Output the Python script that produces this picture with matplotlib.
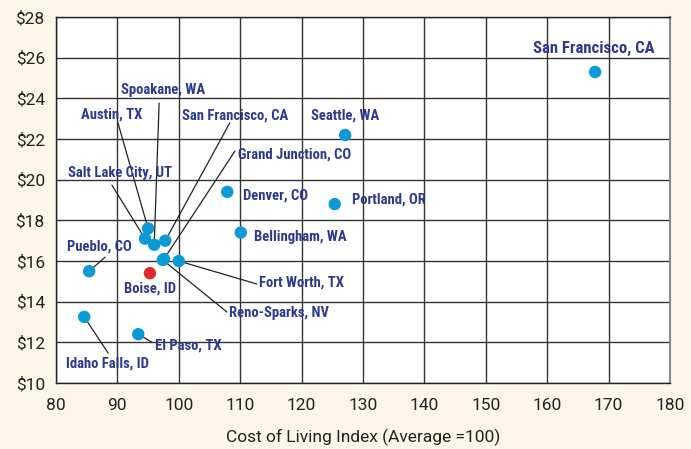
"""Hourly wage vs cost of living scatter."""
import matplotlib
matplotlib.use("Agg")
import matplotlib.pyplot as plt

# data
cities = ["San Francisco, CA", "Seattle, WA", "Portland, OR", "Denver, CO",
          "Bellingham, WA", "Austin, TX", "Salt Lake City, UT", "Spoakane, WA",
          "San Francisco, CA ", "Grand Junction, CO", "Reno-Sparks, NV",
          "Fort Worth, TX", "Boise, ID", "Pueblo, CO", "Idaho Falls, ID",
          "El Paso, TX"]
cost_index = [167.8, 127.1, 125.4, 107.9, 110.1, 95.0, 94.5, 96.0,
              97.8, 97.6, 97.4, 100.0, 95.3, 85.4, 84.6, 93.4]
wage = [25.3, 22.2, 18.8, 19.4, 17.4, 17.6, 17.1, 16.8,
        17.0, 16.1, 16.05, 16.0, 15.4, 15.5, 13.25, 12.4]
highlight = "Boise, ID"

x_ticks = list(range(80, 181, 10))
y_ticks = list(range(10, 29, 2))

# label placement: text pos, alignment, leader line end (None = no line)
label_pos = {
    "San Francisco, CA": ((167.6, 26.43), "center", None),
    "Seattle, WA": ((127.1, 23.18), "center", None),
    "Portland, OR": ((128.2, 19.0), "left", None),
    "Denver, CO": ((110.5, 19.24), "left", None),
    "Bellingham, WA": ((112.2, 17.18), "left", None),
    "Austin, TX": ((84.1, 23.23), "left", (90.1, 22.79)),
    "Salt Lake City, UT": ((82.0, 20.33), "left", (89.1, 19.74)),
    "Spoakane, WA": ((90.6, 24.41), "left", (96.8, 23.77)),
    "San Francisco, CA ": ((100.5, 23.18), "left", (108.3, 22.79)),
    "Grand Junction, CO": ((109.6, 21.26), "left", (109.15, 21.41)),
    "Reno-Sparks, NV": ((108.2, 13.44), "left", (107.85, 13.49)),
    "Fort Worth, TX": ((113.1, 14.92), "left", (112.7, 14.87)),
    "Boise, ID": ((95.3, 14.67), "center", None),
    "Pueblo, CO": ((81.8, 16.69), "left", (88.0, 16.19)),
    "Idaho Falls, ID": ((81.6, 10.98), "left", (88.5, 11.47)),
    "El Paso, TX": ((96.1, 11.82), "left", (95.6, 12.01)),
}

BG = "#fdf5e8"
BLUE = "#0b9ad6"
RED = "#e02a2a"
NAVY = "#2b3a8c"
LABEL_FONT = ["Roboto Condensed", "DejaVu Sans"]
TICK_FONT = ["Roboto", "DejaVu Sans"]

fig = plt.figure(figsize=(6.91, 4.49), dpi=100, facecolor=BG)
ax = fig.add_axes([0.081, 0.147, 0.8886, 0.815])
ax.set_facecolor("white")

colors = [RED if c == highlight else BLUE for c in cities]
ax.scatter(cost_index, wage, s=80, c=colors, zorder=4, linewidths=0)

for name, x, y in zip(cities, cost_index, wage):
    (tx, ty), ha, line_end = label_pos[name]
    size = 12 if name == "San Francisco, CA" else 10.5
    ax.text(tx, ty, name.strip(), ha=ha, va="center", fontsize=size,
            fontweight="bold", fontstretch="condensed", color=NAVY,
            family=LABEL_FONT, zorder=5)
    if line_end is not None:
        ax.annotate("", xy=(x, y), xytext=line_end,
                    arrowprops=dict(arrowstyle="-", color="#222222", lw=0.9,
                                    shrinkA=0, shrinkB=0), zorder=3)

ax.set_xlim(80, 180)
ax.set_ylim(10, 28)
ax.set_xticks(x_ticks)
ax.set_yticks(y_ticks)
ax.set_yticklabels([f"${v}" for v in y_ticks])
ax.grid(True, color="#333333", lw=1.0, zorder=0)
ax.set_axisbelow(True)
ax.tick_params(length=0, labelsize=12.5, labelcolor="#222222")
ax.tick_params(axis="x", pad=11)
ax.tick_params(axis="y", pad=8)
for lab in ax.get_xticklabels() + ax.get_yticklabels():
    lab.set_family(TICK_FONT)

for side in ["left", "bottom", "top"]:
    ax.spines[side].set_color("#222222")
    ax.spines[side].set_linewidth(1.0)
ax.spines["right"].set_color("#888888")
ax.spines["right"].set_linewidth(1.5)

ax.set_xlabel("Cost of Living Index (Average =100)", fontsize=12.5,
              color="#222222", family=TICK_FONT, labelpad=11)

plt.savefig("out.png", dpi=100, facecolor=BG)
plt.close()
